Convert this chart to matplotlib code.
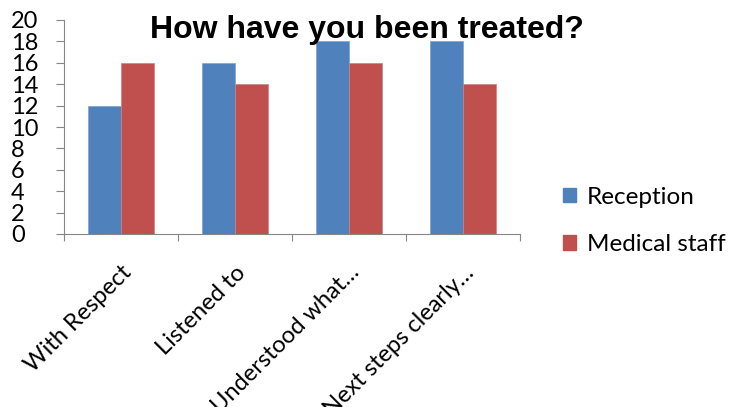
import numpy as np
import matplotlib.pyplot as plt
from matplotlib.patches import Patch

categories = ["With Respect", "Listened to", "Understood what…", "Next steps clearly…"]
reception = [12, 16, 18, 18]
medical_staff = [16, 14, 16, 14]
series_names = ["Reception", "Medical staff"]
colors = ["#4F81BD", "#C0504D"]

plt.rcParams['font.family'] = ['Lato', 'DejaVu Sans']

fig = plt.figure(figsize=(7.39, 4.07), dpi=100)
ax = fig.add_axes([64/739, 1 - 234/407, (520-64)/739, (234-20)/407])

x = np.arange(len(categories))
w = 0.29
ax.bar(x - w/2, reception, w, color=colors[0], edgecolor="#7FA0CF", linewidth=0.5)
ax.bar(x + w/2, medical_staff, w, color=colors[1], edgecolor="#D08080", linewidth=0.5)

ax.set_xlim(-0.5, len(categories) - 0.5)
ax.set_ylim(0, 20)
ax.set_yticks(range(0, 21, 2))
ax.tick_params(axis='y', labelsize=17, length=6, color="#868686", pad=32)
for lab in ax.get_yticklabels():
    lab.set_horizontalalignment('left')

# category ticks sit on the boundaries between groups
ax.set_xticks(np.arange(len(categories) + 1) - 0.5)
ax.set_xticklabels([])
ax.tick_params(axis='x', length=5, color="#868686", direction='out')
for i, name in enumerate(categories):
    ax.text(i, -2.6, name, rotation=45, ha='right', va='top',
            fontsize=17, rotation_mode='anchor')

for side in ['top', 'right']:
    ax.spines[side].set_visible(False)
for side in ['left', 'bottom']:
    ax.spines[side].set_color("#868686")

fig.text(367/739, 1 - 30/407, "How have you been treated?", ha='center', va='center',
         fontsize=23, fontweight='bold', family='Liberation Sans')

handles = [Patch(color=c) for c in colors]
fig.legend(handles, series_names, loc='center left', bbox_to_anchor=(541/739, 1 - 221/407),
           frameon=False, fontsize=17.5, handlelength=0.55, handleheight=0.55,
           handletextpad=0.45, labelspacing=1.1)

fig.savefig("out.png", dpi=100)
